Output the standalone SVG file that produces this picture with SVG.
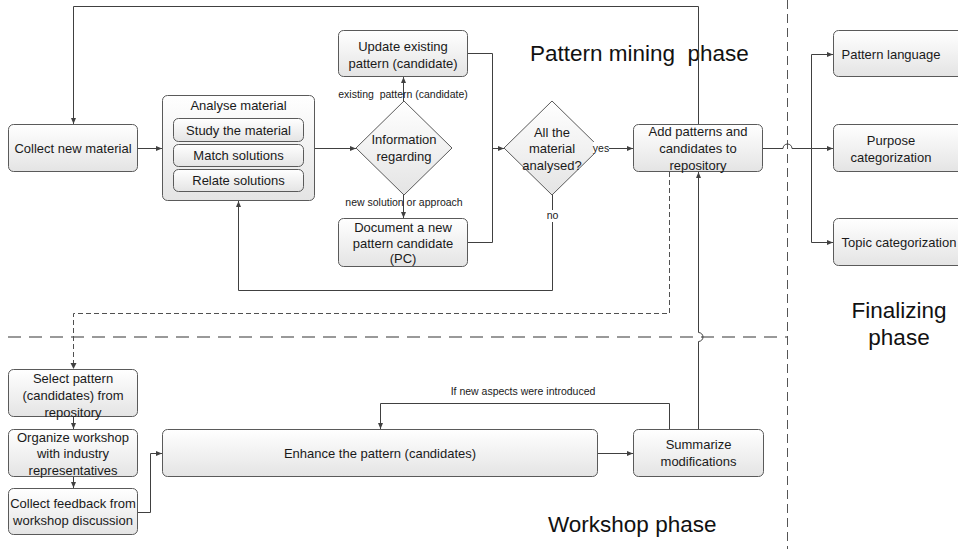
<svg xmlns="http://www.w3.org/2000/svg" width="958" height="549" viewBox="0 0 958 549">
  <defs>
    <linearGradient id="boxFill" x1="0" y1="0" x2="0" y2="1">
      <stop offset="0" stop-color="#ffffff"/>
      <stop offset="1" stop-color="#e4e4e4"/>
    </linearGradient>
    <marker id="arrow" viewBox="0 0 6 6" refX="6" refY="3" markerWidth="6" markerHeight="6" markerUnits="userSpaceOnUse" orient="auto">
      <path d="M0,0.5 L6,3 L0,5.5 z" fill="#404040"/>
    </marker>
    <style>
      .box { fill: url(#boxFill); stroke: #5a5a5a; stroke-width: 1; }
      .sub { fill: url(#boxFill); stroke: #5a5a5a; stroke-width: 1; }
      .t { font-family: "Liberation Sans", Arial, sans-serif; font-size: 13px; fill: #1a1a1a; text-anchor: middle; }
      .lbl { font-family: "Liberation Sans", Arial, sans-serif; font-size: 10.5px; fill: #1a1a1a; text-anchor: middle; }
      .phase { font-family: "Liberation Sans", Arial, sans-serif; font-size: 22.5px; fill: #111111; white-space: pre; }
      .c { fill: none; stroke: #404040; stroke-width: 1; }
      .ca { fill: none; stroke: #404040; stroke-width: 1; marker-end: url(#arrow); }
      .dash { fill: none; stroke: #505050; stroke-width: 1; stroke-dasharray: 5 3; }
      .lane-h { fill: none; stroke: #999999; stroke-width: 2; stroke-dasharray: 13 8; }
      .lane-v { fill: none; stroke: #555555; stroke-width: 1; stroke-dasharray: 9 5; }
    </style>
  </defs>

  <!-- phase separators -->
  <g id="lanes">
    <path class="lane-v" d="M787.5,0 V549"/>
    <path class="lane-h" d="M8,337 H787"/>
  </g>

  <!-- phase titles -->
  <g id="phase-titles">
    <text class="phase" x="530" y="61">Pattern mining&#160; phase</text>
    <text class="phase" x="899" y="318" text-anchor="middle">Finalizing</text>
    <text class="phase" x="899" y="345" text-anchor="middle">phase</text>
    <text class="phase" x="548" y="532">Workshop phase</text>
  </g>

  <!-- connectors -->
  <g id="connectors">
    <!-- repository back to collecting new material -->
    <path class="ca" d="M698.5,124 V6.5 H73.5 V124"/>
    <!-- collect -> analyse -->
    <path class="ca" d="M138,148.5 H162"/>
    <!-- analyse -> information decision -->
    <path class="ca" d="M315,148.5 H356"/>
    <!-- decision -> update / document -->
    <path class="ca" d="M403.5,101 V77"/>
    <path class="ca" d="M403.5,195 V218"/>
    <!-- update / document -> all analysed? -->
    <path class="c" d="M468,53.5 H492.5 V242.5 H468"/>
    <path class="ca" d="M492.5,148.5 H504"/>
    <!-- yes -> add to repository -->
    <path class="ca" d="M600,148.5 H633"/>
    <!-- no -> back to analyse -->
    <path class="ca" d="M552.5,195 V290.5 H238.5 V201" stroke="#222222"/>
    <!-- repository -> finalizing outputs, hopping the phase separator -->
    <path class="c" d="M763,148.5 H783 A4.5,4.5 0 0 1 792,148.5 H811.5"/>
    <path class="ca" d="M811.5,148.5 H833"/>
    <path class="ca" d="M811.5,148.5 V54.5 H833"/>
    <path class="ca" d="M811.5,148.5 V242.5 H833"/>
    <!-- repository -> select pattern (dashed) -->
    <path class="dash" d="M669.5,172 V313.5 H73.5 V364" />
    <path d="M70.5,363 L73.5,369 L76.5,363 z" fill="#404040"/>
    <!-- workshop chain -->
    <path class="ca" d="M73.5,417 V429"/>
    <path class="ca" d="M73.5,477 V488"/>
    <path class="ca" d="M138,512.5 H150.5 V453.5 H162"/>
    <path class="ca" d="M598,453.5 H633"/>
    <!-- loop: new aspects introduced -->
    <path class="ca" d="M669.5,429 V403.5 H380.5 V429"/>
    <!-- summarize -> repository, hopping the separator -->
    <path class="ca" d="M698.5,429 V341.5 A4.5,4.5 0 0 0 698.5,332.5 V172"/>
  </g>

  <!-- pattern mining phase -->
  <g id="collect-new-material">
    <rect class="box" x="8.5" y="124.5" width="129" height="47" rx="5"/>
    <text class="t" x="73" y="153">Collect new material</text>
  </g>

  <g id="analyse-material">
    <rect class="box" x="162.5" y="95.5" width="152" height="105" rx="5"/>
    <text class="t" x="238.5" y="110">Analyse material</text>
    <g id="study-material">
      <rect class="sub" x="173.5" y="118.5" width="130" height="23" rx="5"/>
      <text class="t" x="238.5" y="134.5">Study the material</text>
    </g>
    <g id="match-solutions">
      <rect class="sub" x="173.5" y="144.5" width="130" height="22" rx="5"/>
      <text class="t" x="238.5" y="160">Match solutions</text>
    </g>
    <g id="relate-solutions">
      <rect class="sub" x="173.5" y="169.5" width="130" height="22" rx="5"/>
      <text class="t" x="238.5" y="185">Relate solutions</text>
    </g>
  </g>

  <g id="information-regarding">
    <path class="box" d="M404,101 L452,148 L404,195 L356,148 z"/>
    <text class="t" x="404" y="144">Information</text>
    <text class="t" x="404" y="161">regarding</text>
  </g>

  <g id="update-existing">
    <rect class="box" x="338.5" y="30.5" width="129" height="46" rx="5"/>
    <text class="t" x="403" y="50.5">Update existing</text>
    <text class="t" x="403" y="67.5">pattern (candidate)</text>
  </g>

  <g id="document-new">
    <rect class="box" x="338.5" y="218.5" width="129" height="48" rx="5"/>
    <text class="t" x="403" y="231.5">Document a new</text>
    <text class="t" x="403" y="247.5">pattern candidate</text>
    <text class="t" x="403" y="263">(PC)</text>
  </g>

  <g id="all-analysed">
    <path class="box" d="M552,101 L600,148 L552,195 L504,148 z"/>
    <text class="t" x="552" y="136.5">All the</text>
    <text class="t" x="552" y="153">material</text>
    <text class="t" x="552" y="170">analysed?</text>
  </g>

  <g id="add-to-repository">
    <rect class="box" x="633.5" y="124.5" width="129" height="47" rx="5"/>
    <text class="t" x="698" y="135.5">Add patterns and</text>
    <text class="t" x="698" y="152.5">candidates to</text>
    <text class="t" x="698" y="169.5">repository</text>
  </g>

  <!-- finalizing phase -->
  <g id="pattern-language">
    <rect class="box" x="833.5" y="30.5" width="130" height="46" rx="5"/>
    <text class="t" x="891" y="58.5">Pattern language</text>
  </g>

  <g id="purpose-categorization">
    <rect class="box" x="833.5" y="124.5" width="130" height="47" rx="5"/>
    <text class="t" x="891" y="144.5">Purpose</text>
    <text class="t" x="891" y="161.5">categorization</text>
  </g>

  <g id="topic-categorization">
    <rect class="box" x="833.5" y="218.5" width="130" height="47" rx="5"/>
    <text class="t" x="899" y="246.5">Topic categorization</text>
  </g>

  <!-- workshop phase -->
  <g id="select-pattern">
    <rect class="box" x="8.5" y="369.5" width="129" height="47" rx="5"/>
    <text class="t" x="73" y="382.5">Select pattern</text>
    <text class="t" x="73" y="399.5">(candidates) from</text>
    <text class="t" x="73" y="416.5">repository</text>
  </g>

  <g id="organize-workshop">
    <rect class="box" x="8.5" y="429.5" width="129" height="47" rx="5"/>
    <text class="t" x="73" y="441.5">Organize workshop</text>
    <text class="t" x="73" y="458">with industry</text>
    <text class="t" x="73" y="475">representatives</text>
  </g>

  <g id="collect-feedback">
    <rect class="box" x="8.5" y="488.5" width="129" height="46" rx="5"/>
    <text class="t" x="73" y="507.5">Collect feedback from</text>
    <text class="t" x="73" y="524.5">workshop discussion</text>
  </g>

  <g id="enhance-pattern">
    <rect class="box" x="162.5" y="429.5" width="435" height="47" rx="5"/>
    <text class="t" x="380" y="457.5">Enhance the pattern (candidates)</text>
  </g>

  <g id="summarize-modifications">
    <rect class="box" x="633.5" y="429.5" width="130" height="47" rx="5"/>
    <text class="t" x="698.5" y="448.5">Summarize</text>
    <text class="t" x="698.5" y="466">modifications</text>
  </g>

  <!-- connector labels, drawn over the shapes -->
  <g id="labels">
    <text class="lbl" x="403" y="97.7">existing&#160; pattern (candidate)</text>
    <text class="lbl" x="404" y="205.7">new solution or approach</text>
    <rect x="593" y="142" width="16" height="12" fill="#ffffff"/>
    <text class="lbl" x="601" y="151.7">yes</text>
    <rect x="545" y="210" width="15" height="12" fill="#ffffff"/>
    <text class="lbl" x="552.5" y="218.7">no</text>
    <text class="lbl" x="523" y="394.7">If new aspects were introduced</text>
  </g>
</svg>
